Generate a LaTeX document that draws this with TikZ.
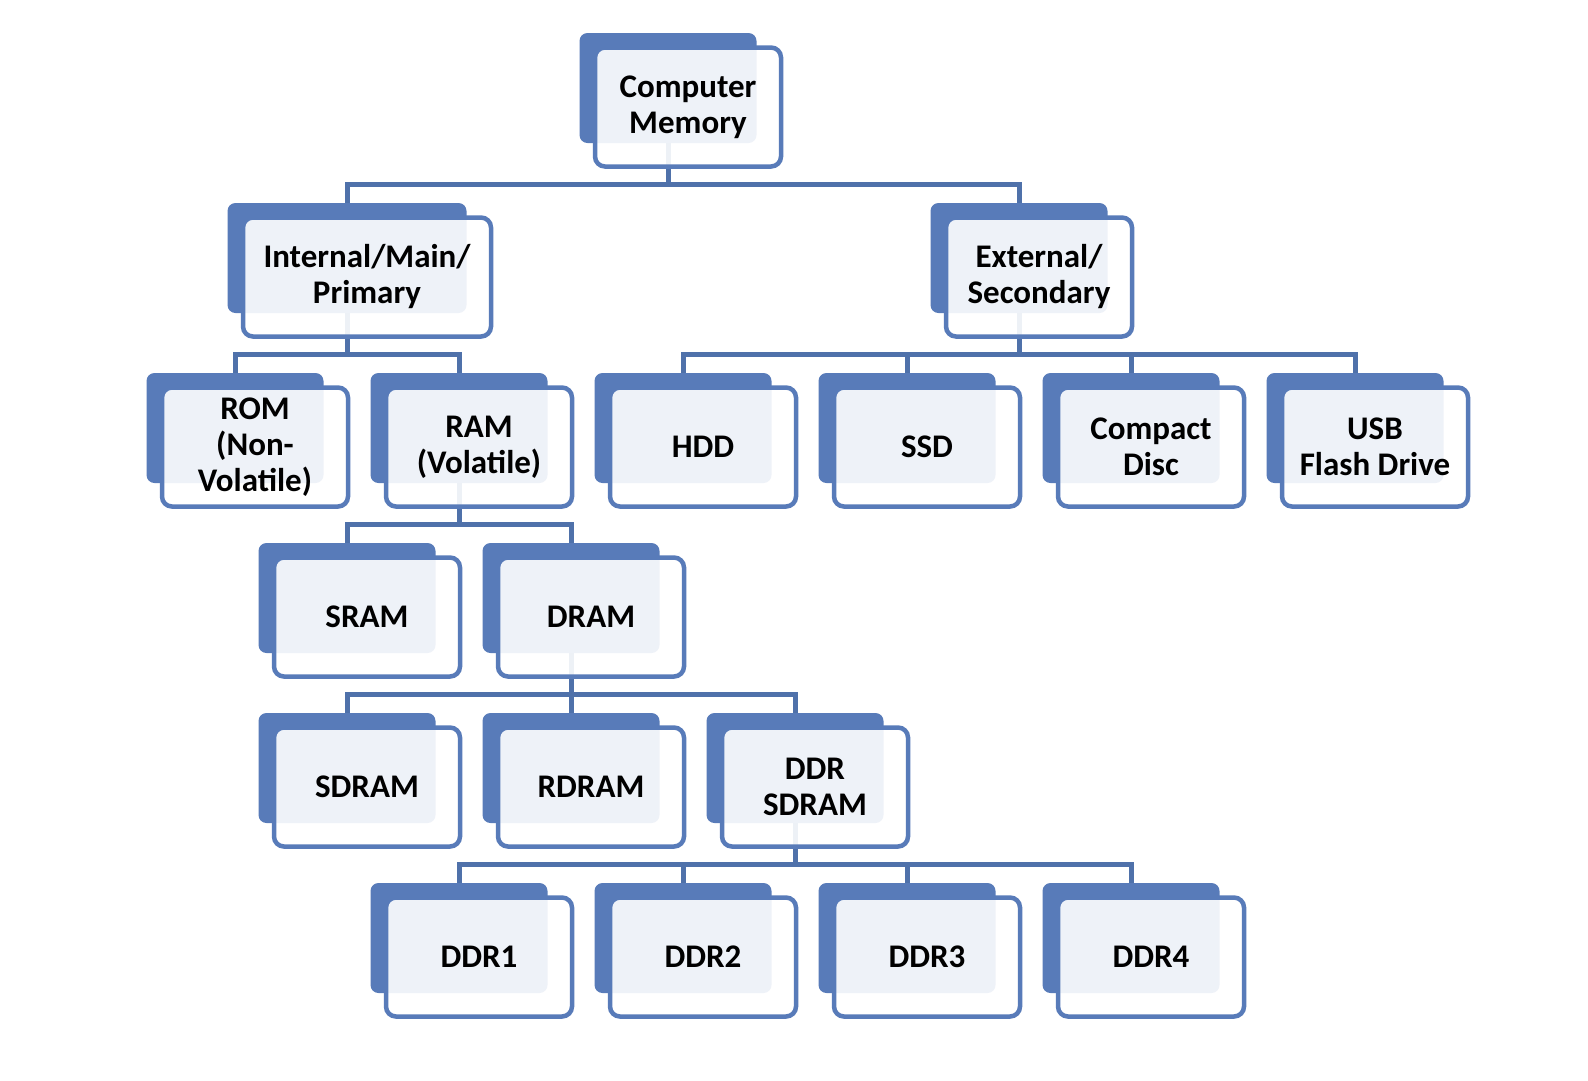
\documentclass[tikz,border=0pt]{standalone}
\usepackage{fontspec}
\setmainfont{Carlito}
\usetikzlibrary{positioning}
\definecolor{smartblue}{RGB}{88,123,185}
\definecolor{linkblue}{RGB}{79,113,170}
\pgfdeclarelayer{behind}
\pgfsetlayers{behind,main}
\tikzset{
  backbox/.style={fill=smartblue,draw=none,rounded corners=8pt,minimum height=110,inner sep=0pt},
  frontbox/.style={draw=smartblue,line width=4.5pt,fill=white,fill opacity=0.9,text opacity=1,
    rounded corners=10pt,minimum height=119,inner sep=0pt,align=center,
    font=\bfseries\fontsize{33}{36}\selectfont},
  link/.style={draw=linkblue,line width=5pt},
}
% back box + front box with its text
\newcommand{\memnode}[4][177]{%
  \node[backbox,minimum width=#1] (#2) at #3 {};
  \node[frontbox,minimum width=#1+9] (#2f) at ([shift={(20,19)}]#2.center) {#4};
}

\begin{document}
\begin{tikzpicture}[line join=miter,x=1pt,y=-1pt]
\useasboundingbox (0,0) rectangle (1588,1080);
% level 0
\memnode{cm}{(668,88)}{Computer\\Memory}
% level 1
\memnode[239]{int}{(347,258)}{Internal/Main/\\Primary}
\memnode{ext}{(1019,258)}{External/\\Secondary}
% level 2
\memnode{rom}{(235,428)}{ROM\\(Non-\\Volatile)}
\memnode{ram}{(459,428)}{RAM\\(Volatile)}
\memnode{hdd}{(683,428)}{HDD}
\memnode{ssd}{(907,428)}{SSD}
\memnode{cd}{(1131,428)}{Compact\\Disc}
\memnode{usb}{(1355,428)}{USB\\Flash Drive}
% level 3
\memnode{sram}{(347,598)}{SRAM}
\memnode{dram}{(571,598)}{DRAM}
% level 4
\memnode{sdram}{(347,768)}{SDRAM}
\memnode{rdram}{(571,768)}{RDRAM}
\memnode{ddr}{(795,768)}{DDR\\SDRAM}
% level 5
\memnode{ddra}{(459,938)}{DDR1}
\memnode{ddrb}{(683,938)}{DDR2}
\memnode{ddrc}{(907,938)}{DDR3}
\memnode{ddrd}{(1131,938)}{DDR4}
% connectors
\begin{pgfonlayer}{behind}
\fill[white] (0,0) rectangle (1588,1080);
\foreach \p/\c in {cm/int,cm/ext,int/rom,int/ram,ext/hdd,ext/ssd,ext/cd,ext/usb,
  ram/sram,ram/dram,dram/sdram,dram/rdram,dram/ddr,ddr/ddra,ddr/ddrb,ddr/ddrc,ddr/ddrd}
  \draw[link] (\p.south) -- ++(0,41) -| (\c.north);
\end{pgfonlayer}
\end{tikzpicture}
\end{document}
